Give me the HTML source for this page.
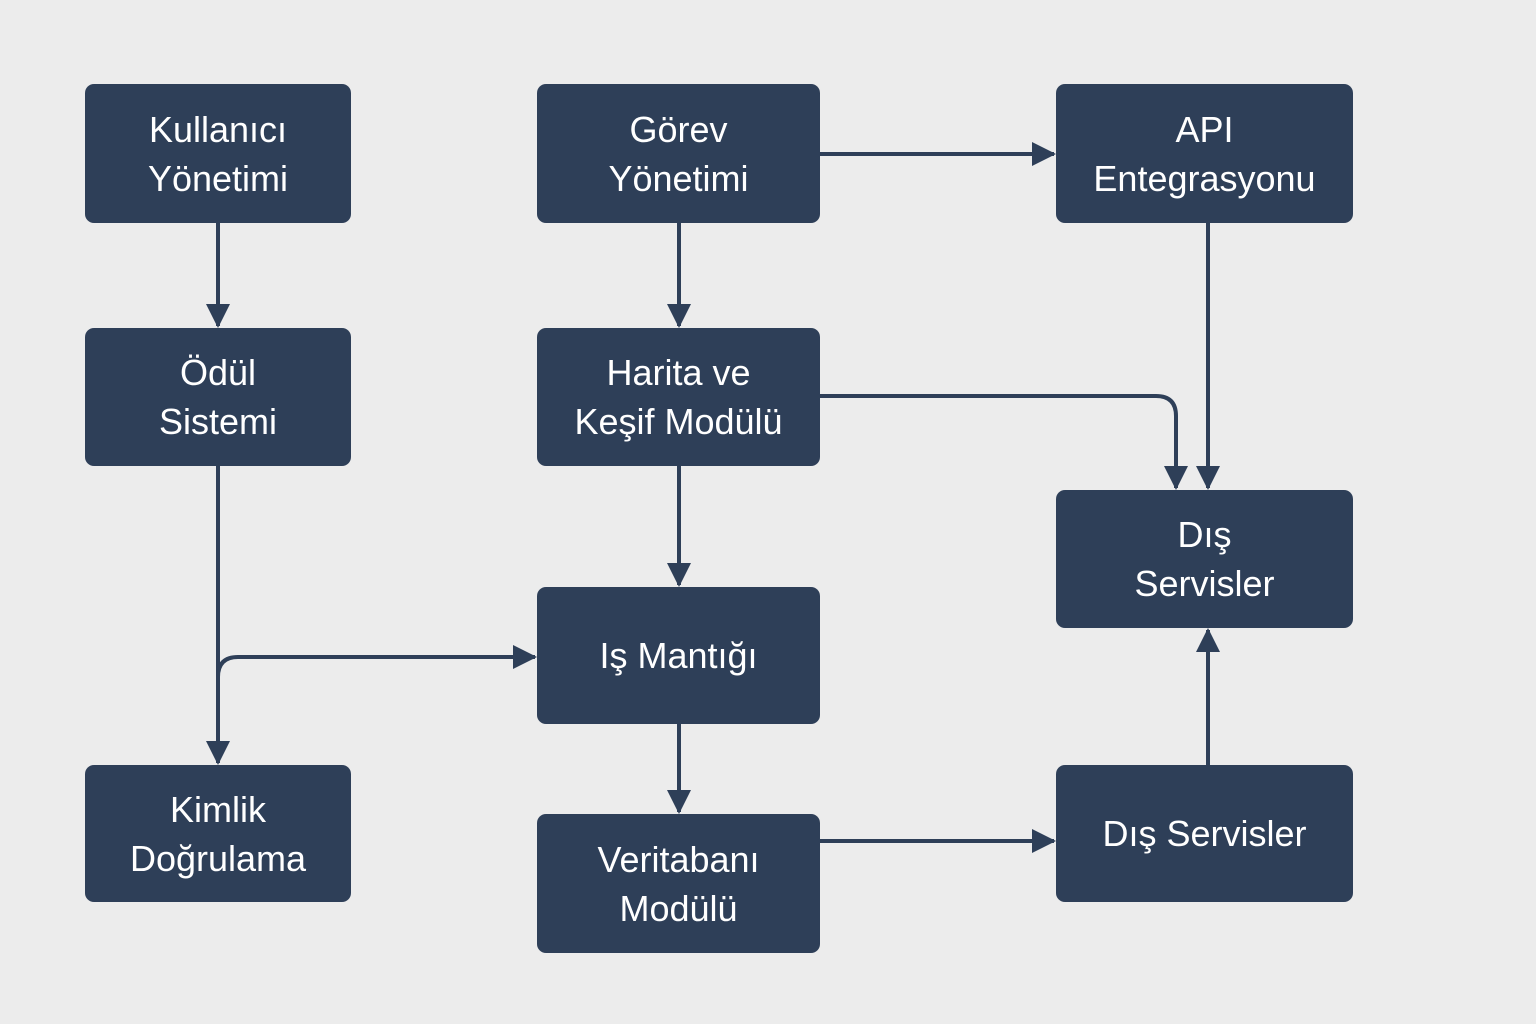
<!DOCTYPE html>
<html><head><meta charset="utf-8"><style>
html,body{margin:0;padding:0;background:#ececec;}
body{width:1536px;height:1024px;position:relative;overflow:hidden;font-family:"Liberation Sans","DejaVu Sans",sans-serif;}
.b{position:absolute;background:#2e3f58;border-radius:9px;color:#fff;display:flex;align-items:center;justify-content:center;text-align:center;font-size:36px;line-height:49px;}
svg{position:absolute;left:0;top:0;}
</style></head><body>
<svg width="1536" height="1024">
<defs><marker id="a" markerWidth="6" markerHeight="6" refX="5.5" refY="3" orient="auto" markerUnits="strokeWidth"><path d="M0,0 L6,3 L0,6 z" fill="#2e3f58"/></marker></defs>
<g stroke="#2e3f58" stroke-width="4" fill="none" marker-end="url(#a)">
<path d="M218 223 V326"/>
<path d="M679 223 V326"/>
<path d="M820 154 H1054"/>
<path d="M1208 223 V488"/>
<path d="M820 396 H1156 Q1176 396 1176 416 V488"/>
<path d="M679 466 V585"/>
<path d="M218 466 V763"/>
<path d="M218 700 V677 Q218 657 238 657 H535"/>
<path d="M679 724 V812"/>
<path d="M820 841 H1054"/>
<path d="M1208 765 V630"/>
</g>
</svg>
<div class="b" style="left:85px;top:84px;width:266px;height:139px">Kullanıcı<br>Yönetimi</div>
<div class="b" style="left:537px;top:84px;width:283px;height:139px">Görev<br>Yönetimi</div>
<div class="b" style="left:1056px;top:84px;width:297px;height:139px">API<br>Entegrasyonu</div>
<div class="b" style="left:85px;top:328px;width:266px;height:138px">Ödül<br>Sistemi</div>
<div class="b" style="left:537px;top:328px;width:283px;height:138px">Harita ve<br>Keşif Modülü</div>
<div class="b" style="left:1056px;top:490px;width:297px;height:138px">Dış<br>Servisler</div>
<div class="b" style="left:537px;top:587px;width:283px;height:137px">Iş Mantığı</div>
<div class="b" style="left:85px;top:765px;width:266px;height:137px">Kimlik<br>Doğrulama</div>
<div class="b" style="left:537px;top:814px;width:283px;height:139px">Veritabanı<br>Modülü</div>
<div class="b" style="left:1056px;top:765px;width:297px;height:137px">Dış Servisler</div>
</body></html>
